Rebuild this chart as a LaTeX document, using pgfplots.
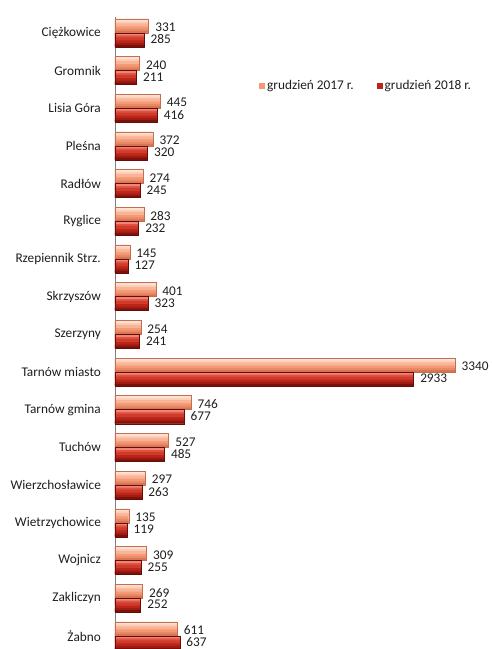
\documentclass[border=0pt]{standalone}
\usepackage{pgfplots}
\pgfplotsset{compat=1.18}
\usepackage{fontspec}
\setmainfont{Carlito}
\definecolor{lightHi}{RGB}{252,206,184}
\definecolor{lightMid}{RGB}{245,152,116}
\definecolor{lightLo}{RGB}{214,116,84}
\definecolor{lightE}{RGB}{196,110,80}
\definecolor{darkHi}{RGB}{226,82,62}
\definecolor{darkMid}{RGB}{188,38,26}
\definecolor{darkLo}{RGB}{124,16,10}
\definecolor{darkE}{RGB}{104,12,8}
\definecolor{txt}{RGB}{30,30,30}
\pgfplotstableread{
v y
331 0
240 1
445 2
372 3
274 4
283 5
145 6
401 7
254 8
3340 9
746 10
527 11
297 12
135 13
309 14
269 15
611 16
}\dataA
\pgfplotstableread{
v y
285 0
211 1
416 2
320 3
245 4
232 5
127 6
323 7
241 8
2933 9
677 10
485 11
263 12
119 13
255 14
252 15
637 16
}\dataB
\newcommand{\fs}{\fontsize{13.3}{16}\selectfont}
\begin{document}
\fs
\begin{tikzpicture}
\path[use as bounding box] (0,0) rectangle (491pt,649pt);
\begin{axis}[
  at={(115pt,0pt)}, anchor=south west,
  scale only axis, width=376pt, height=632pt,
  xbar, y dir=reverse,
  xmin=0, xmax=3693,
  ymin=-0.42, ymax=16.35,
  axis x line=none,
  axis y line=left,
  axis line style={-, draw=black!50, line width=0.8pt},
  ytick={0,...,16},
  yticklabels={Ciężkowice,Gromnik,Lisia Góra,Pleśna,Radłów,Ryglice,Rzepiennik Strz.,Skrzyszów,Szerzyny,Tarnów miasto,Tarnów gmina,Tuchów,Wierzchosławice,Wietrzychowice,Wojnicz,Zakliczyn,Żabno},
  major tick length=0pt,
  yticklabel style={font=\fs, text=txt, xshift=-9.5pt},
  /pgf/number format/assume math mode=true,
  /pgf/number format/1000 sep={},
  nodes near coords style={font=\fs, text=txt, anchor=west, xshift=2pt},
  legend columns=2,
  legend style={draw=none, fill=none, at={(0.383,0.891)}, anchor=west, inner sep=0pt,
    font=\fs, text=txt,
    /tikz/every even column/.append style={column sep=21pt}},
  legend image code/.code={\path[#1] (0pt,-3pt) rectangle (6pt,3pt);},
  clip=false,
]
% base bars
\addplot[bar width=14pt, bar shift=7pt, draw=none, fill=lightMid, nodes near coords, nodes near coords style={yshift=-1.5pt}] table[x=v,y=y]{\dataA};
\addplot[bar width=14pt, bar shift=-7pt, draw=none, fill=darkMid, nodes near coords, nodes near coords style={yshift=0.5pt}] table[x=v,y=y]{\dataB};
% highlight strips (light)
\addplot[forget plot, bar width=5pt, bar shift=11.2pt, draw=none, fill=lightHi] table[x=v,y=y]{\dataA};
\addplot[forget plot, bar width=2pt, bar shift=12.5pt, draw=none, fill=lightHi!60!white] table[x=v,y=y]{\dataA};
\addplot[forget plot, bar width=3pt, bar shift=8pt, draw=none, fill=lightHi!50!lightMid] table[x=v,y=y]{\dataA};
\addplot[forget plot, bar width=3pt, bar shift=2.5pt, draw=none, fill=lightMid!60!lightLo] table[x=v,y=y]{\dataA};
\addplot[forget plot, bar width=2pt, bar shift=1pt, draw=none, fill=lightLo] table[x=v,y=y]{\dataA};
% highlight strips (dark)
\addplot[forget plot, bar width=5pt, bar shift=-2.8pt, draw=none, fill=darkHi] table[x=v,y=y]{\dataB};
\addplot[forget plot, bar width=2pt, bar shift=-1.5pt, draw=none, fill=darkHi!70!white] table[x=v,y=y]{\dataB};
\addplot[forget plot, bar width=3pt, bar shift=-6pt, draw=none, fill=darkHi!50!darkMid] table[x=v,y=y]{\dataB};
\addplot[forget plot, bar width=3pt, bar shift=-11.5pt, draw=none, fill=darkMid!55!darkLo] table[x=v,y=y]{\dataB};
\addplot[forget plot, bar width=2pt, bar shift=-13pt, draw=none, fill=darkLo] table[x=v,y=y]{\dataB};
% outlines
\addplot[forget plot, bar width=14pt, bar shift=7pt, draw=lightE, line width=0.4pt, fill=none] table[x=v,y=y]{\dataA};
\addplot[forget plot, bar width=14pt, bar shift=-7pt, draw=darkE, line width=0.4pt, fill=none] table[x=v,y=y]{\dataB};
\legend{grudzień 2017 r.,grudzień 2018 r.}
\end{axis}
\end{tikzpicture}
\end{document}
